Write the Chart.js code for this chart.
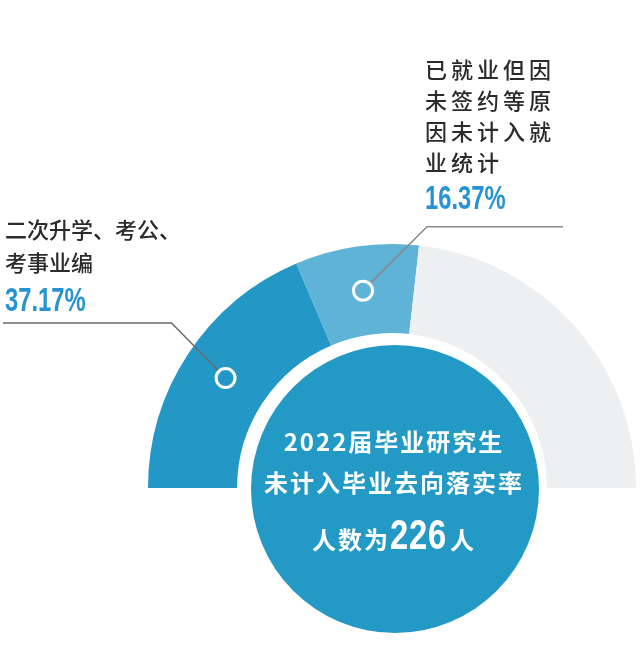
<!DOCTYPE html>
<html lang="zh">
<head>
  <meta charset="UTF-8">
  <title>2022届毕业研究生未计入毕业去向落实率</title>
  <script src="https://cdn.jsdelivr.net/npm/chart.js"></script>
  <style>
    html, body { margin: 0; padding: 0; background: #fff; }
    body {
      width: 642px; height: 654px;
      position: relative; overflow: hidden;
      font-family: 'Noto Sans CJK SC', sans-serif;
    }
    #chart { position: absolute; left: 0; top: 0; }
    .label {
      position: absolute;
      color: #2b2b2b;
      font-size: 22px;
      font-weight: 500;
      white-space: nowrap;
    }
    .pct {
      position: absolute;
      font-family: 'Liberation Sans', Arial, sans-serif;
      font-weight: bold;
      color: #2694d2;
      font-size: 33px;
      line-height: 36px;
      transform: scaleX(0.72);
      transform-origin: left center;
      white-space: nowrap;
    }
    .center-line {
      position: absolute;
      left: 244px; width: 300px;
      text-align: center;
      color: #fff;
      font-weight: bold;
      font-size: 24px;
      line-height: 40px;
      letter-spacing: 2px;
      white-space: nowrap;
    }
    .big {
      font-family: 'Liberation Sans', Arial, sans-serif;
      font-size: 42px;
      display: inline-block;
      transform: scaleX(0.78);
      transform-origin: left bottom;
      margin-right: -13px;
      letter-spacing: 1px;
    }
  </style>
</head>
<body>
  <canvas id="chart" width="642" height="654"></canvas>

  <div class="label" id="leftLabel" style="left:5px; top:212px; line-height:33px;"></div>
  <div class="pct" id="leftPct" style="left:5px; top:282px;"></div>

  <div class="label" id="rightLabel" style="left:425px; top:53px; line-height:31px; letter-spacing:4px;"></div>
  <div class="pct" id="rightPct" style="left:425px; top:180px;"></div>

  <div class="center-line" style="top:421px;">2022届毕业研究生</div>
  <div class="center-line" style="top:462px;">未计入毕业去向落实率</div>
  <div class="center-line" style="top:510px; line-height:50px;">人数为<span class="big" id="total"></span>人</div>

  <script>
    // 数据
    const categories = ['二次升学、考公、考事业编', '已就业但因未签约等原因未计入就业统计', '其他'];
    const shares = [37.17, 16.37, 46.46];
    const totalPeople = 226;
    const sliceColors = ['#2397c5', '#5fb3d6', '#eeeff1'];

    const leftLines = ['二次升学、考公、', '考事业编'];
    const rightLines = ['已就业但因', '未签约等原', '因未计入就', '业统计'];

    document.getElementById('leftLabel').innerHTML = leftLines.join('<br>');
    document.getElementById('rightLabel').innerHTML = rightLines.join('<br>');
    document.getElementById('leftPct').textContent = shares[0].toFixed(2) + '%';
    document.getElementById('rightPct').textContent = shares[1].toFixed(2) + '%';
    document.getElementById('total').textContent = totalPeople;

    // 引线: 从扇区中点的小圆圈出发, 折线到水平线
    const leaders = [
      { index: 0, dx: -54, dy: -55, endX: 3, color: '#6b6b6b' },
      { index: 1, dx: 64, dy: -64, endX: 563, color: '#8a8a8a' }
    ];

    const decoPlugin = {
      id: 'deco',
      beforeDatasetsDraw(chart) {
        const arc = chart.getDatasetMeta(0).data[0];
        const ctx = chart.ctx;
        ctx.save();
        ctx.fillStyle = '#2399c6';
        ctx.beginPath();
        ctx.arc(arc.x + 3, arc.y + 1, 144, 0, Math.PI * 2);
        ctx.fill();
        ctx.restore();
      },
      afterDatasetsDraw(chart) {
        const arcs = chart.getDatasetMeta(0).data;
        const ctx = chart.ctx;
        ctx.save();
        leaders.forEach(l => {
          const p = arcs[l.index].getCenterPoint();
          const ex = p.x + l.dx, ey = p.y + l.dy;
          const len = Math.hypot(l.dx, l.dy);
          ctx.strokeStyle = l.color;
          ctx.lineWidth = 1.5;
          ctx.beginPath();
          ctx.moveTo(p.x + l.dx / len * 11, p.y + l.dy / len * 11);
          ctx.lineTo(ex, ey);
          ctx.lineTo(l.endX, ey);
          ctx.stroke();

          ctx.strokeStyle = '#ffffff';
          ctx.lineWidth = 3;
          ctx.beginPath();
          ctx.arc(p.x, p.y, 9.5, 0, Math.PI * 2);
          ctx.stroke();
        });
        ctx.restore();
      }
    };

    new Chart(document.getElementById('chart'), {
      type: 'doughnut',
      data: {
        labels: categories,
        datasets: [{
          data: shares,
          backgroundColor: sliceColors,
          borderWidth: 0,
          hoverOffset: 0
        }]
      },
      options: {
        responsive: false,
        animation: false,
        rotation: -90,
        circumference: 180,
        radius: 244,
        cutout: '63.5%',
        layout: { padding: { left: 142, top: 78, right: 0, bottom: 0 } },
        plugins: {
          legend: { display: false },
          tooltip: { enabled: false }
        }
      },
      plugins: [decoPlugin]
    });
  </script>
</body>
</html>
